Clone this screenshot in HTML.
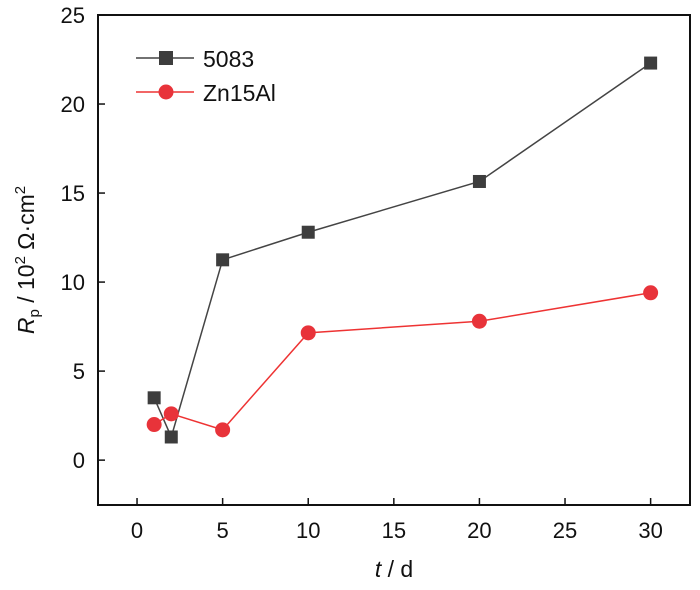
<!DOCTYPE html>
<html><head><meta charset="utf-8"><style>
body{margin:0;background:#fff}
svg text{font-family:"Liberation Sans",Arial,sans-serif;fill:#111}
</style></head><body>
<svg width="700" height="585">
<g id="axes"></g>
<g id="plot"></g>
<g>
 <g>
  <line x1="136" y1="58" x2="194" y2="58" stroke="#444" stroke-width="1.5"/>
  <rect x="159" y="51" width="14" height="14" fill="#3d3d3d"/>
  <text x="203" y="67" font-size="23">5083</text>
 </g>
 <g>
  <line x1="136" y1="92" x2="194" y2="92" stroke="#e33" stroke-width="1.5"/>
  <circle cx="166" cy="92" r="7.5" fill="#e8333a"/>
  <text x="203" y="101" font-size="23">Zn15Al</text>
 </g>
</g>
<text x="394" y="577" font-size="23" text-anchor="middle"><tspan font-style="italic">t</tspan> / d</text>
<text transform="translate(34,260) rotate(-90)" font-size="23" text-anchor="middle"><tspan font-style="italic">R</tspan><tspan font-size="15" dy="5">p</tspan><tspan dy="-5"> / 10</tspan><tspan font-size="15" dy="-9">2</tspan><tspan dy="9"> Ω·cm</tspan><tspan font-size="15" dy="-9">2</tspan></text>
</svg>
<script>
const days=[1,2,5,10,20,30];
const s5083=[3.5,1.3,11.25,12.8,15.65,22.3];
const sZn=[2.0,2.6,1.7,7.15,7.8,9.4];
const xTicks=[0,5,10,15,20,25,30];
const yTicks=[0,5,10,15,20,25];
const L=98,R=690,T=15,B=505;
const xmin=-2.28,xmax=32.3,ymin=-2.52,ymax=25;
const X=v=>L+(v-xmin)/(xmax-xmin)*(R-L);
const Y=v=>B-(v-ymin)/(ymax-ymin)*(B-T);
const NS='http://www.w3.org/2000/svg';
function mk(tag,attrs,parent){const e=document.createElementNS(NS,tag);for(const k in attrs)e.setAttribute(k,attrs[k]);parent.appendChild(e);return e;}
const ax=document.getElementById('axes'),pl=document.getElementById('plot');
const fr=mk('rect',{x:L,y:T,width:R-L,height:B-T,fill:'none',stroke:'#111','stroke-width':2},ax);


xTicks.forEach(t=>{
 const l=mk('line',{x1:X(t),x2:X(t),y1:B,y2:B-7,stroke:'#111','stroke-width':1.5},ax);
 
 
 const tx=mk('text',{x:X(t),y:B+33,'font-size':22,'text-anchor':'middle'},ax);tx.textContent=t;
 
 
});
yTicks.forEach(t=>{
 const l=mk('line',{x1:L,x2:L+7,y1:Y(t),y2:Y(t),stroke:'#111','stroke-width':1.5},ax);
 
 
 const tx=mk('text',{x:L-13,y:Y(t)+8,'font-size':22,'text-anchor':'end'},ax);tx.textContent=t;
 
 
});
function series(vals,color,mcol,shape,name){
 const p=mk('polyline',{points:days.map((d,i)=>X(d)+','+Y(vals[i])).join(' '),fill:'none',stroke:color,'stroke-width':1.5},pl);
 
 
 days.forEach((d,i)=>{
  let m;
  if(shape==='sq')m=mk('rect',{x:X(d)-6.5,y:Y(vals[i])-6.5,width:13,height:13,fill:mcol},pl);
  else m=mk('circle',{cx:X(d),cy:Y(vals[i]),r:7.5,fill:mcol},pl);
  
  
 });
}
series(s5083,'#444','#3d3d3d','sq','series-5083');
series(sZn,'#e33','#e8333a','ci','series-zn15al');
</script>
</body></html>
